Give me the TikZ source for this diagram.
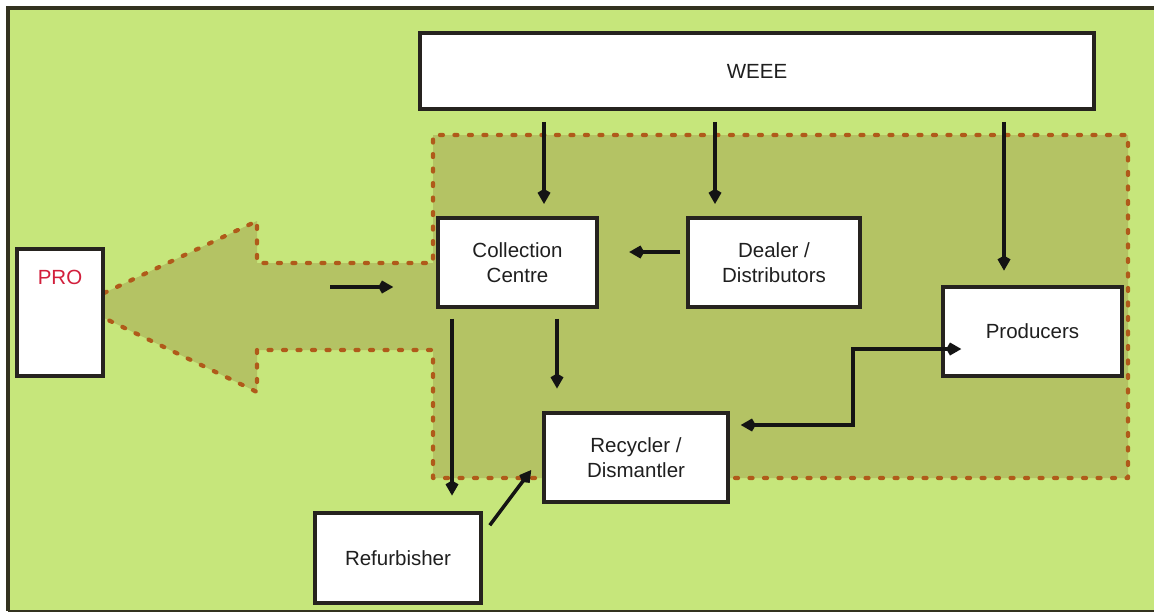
\documentclass[tikz,border=0pt]{standalone}
\usepackage{fontspec}
\setmainfont{Liberation Sans}
\usetikzlibrary{arrows.meta}

\definecolor{bglight}{HTML}{C6E67B}
\definecolor{olivezone}{HTML}{B4C364}
\definecolor{dotbrown}{HTML}{B05A1A}
\definecolor{edgecol}{HTML}{26231F}
\definecolor{framecol}{HTML}{33321F}
\definecolor{prored}{HTML}{D21F3C}

\begin{document}
\begin{tikzpicture}[x=0.03cm, y=-0.03cm,
  box/.style={draw=edgecol, line width=3pt, fill=white, text=black!88,
    font=\fontsize{17.5}{21.3}\selectfont, align=center, inner sep=0pt},
  flow/.style={draw=black!92, line width=3pt,
    -{Kite[length=0.45cm,width=0.39cm]}},
  flowboth/.style={draw=black!92, line width=3pt,
    {Kite[length=0.45cm,width=0.39cm]}-{Kite[length=0.45cm,width=0.39cm]}},
  dotline/.style={draw=dotbrown, line width=3.6pt, line cap=round,
    line join=round, dash pattern=on 0.09cm off 0.345cm}
]
\useasboundingbox (0,0) rectangle (1154,613);
\fill[white] (0,0) rectangle (1154,613);

% light green panel and its frame
\fill[bglight] (8,8) rectangle (1154,611);
\draw[framecol, line width=2.8pt] (1154,8) -- (8,8) -- (8,611);
\draw[framecol, line width=1.6pt] (8,611) -- (1154,611);

% shaded zone joined to the broad arrow pointing at the PRO
\fill[olivezone] (433,135) -- (1128,135) -- (1128,478) -- (433,478)
  -- (433,350) -- (257,350) -- (257,392) -- (104,318) -- (104,293)
  -- (257,221) -- (257,263) -- (433,263) -- cycle;
\draw[dotline] (104,293) -- (257,221) -- (257,263) -- (433,263)
  -- (433,135) -- (1128,135) -- (1128,478) -- (433,478)
  -- (433,350) -- (257,350) -- (257,392) -- (104,318);

% boxes
\node[box, minimum width=20.22cm, minimum height=2.28cm] (weee) at (757,71) {WEEE};
\node[box, minimum width=2.58cm, minimum height=3.81cm] (pro) at (60,312.5) {};
\node[text=prored, font=\fontsize{17.5}{21.3}\selectfont] (prolabel) at (60,277) {PRO};
\node[box, minimum width=4.77cm, minimum height=2.67cm] (cc) at (517.5,262.5) {Collection\\Centre};
\node[box, minimum width=5.16cm, minimum height=2.67cm] (dd) at (774,262.5) {Dealer /\\Distributors};
\node[box, minimum width=5.37cm, minimum height=2.67cm] (prod) at (1032.5,331.5) {Producers};
\node[box, minimum width=5.52cm, minimum height=2.67cm] (rec) at (636,457.5) {Recycler /\\Dismantler};
\node[box, minimum width=4.98cm, minimum height=2.70cm] (ref) at (398,558) {Refurbisher};

% guide positions for the straight connectors
\coordinate (xa) at (544,0);
\coordinate (xb) at (715,0);
\coordinate (xc) at (1004,0);
\coordinate (xd) at (452,0);
\coordinate (xe) at (557,0);
\coordinate (ya) at (0,252);

% connectors
\draw[flow, shorten <=9.4pt, shorten >=10.5pt] (weee.south -| xa) -- (cc.north -| xa);
\draw[flow, shorten <=9.4pt, shorten >=10.5pt] (weee.south -| xb) -- (dd.north -| xb);
\draw[flow, shorten <=9.4pt, shorten >=12.5pt] (weee.south -| xc) -- (prod.north -| xc);
\draw[flow, line width=3.4pt, shorten <=5pt, shorten >=26pt] (dd.west |- ya) -- (cc.east |- ya);
\draw[flow, line width=3.8pt, shorten <=8.5pt, shorten >=13.4pt] (cc.south -| xd) -- (ref.north -| xd);
\draw[flow, shorten <=8.5pt, shorten >=19.4pt] (cc.south -| xe) -- (rec.north -| xe);
\draw[flow] ([shift={(7,14)}]ref.north east) -- ([shift={(-11,12.5)}]rec.west);
\draw[flowboth] ([shift={(11,-32.5)}]rec.east) -- ++(112,0) |- ([shift={(20,17.5)}]prod.west);
\draw[flow, line width=3.4pt] ([shift={(-106,24.5)}]cc.west) -- ([shift={(-43,24.5)}]cc.west);
\end{tikzpicture}
\end{document}
